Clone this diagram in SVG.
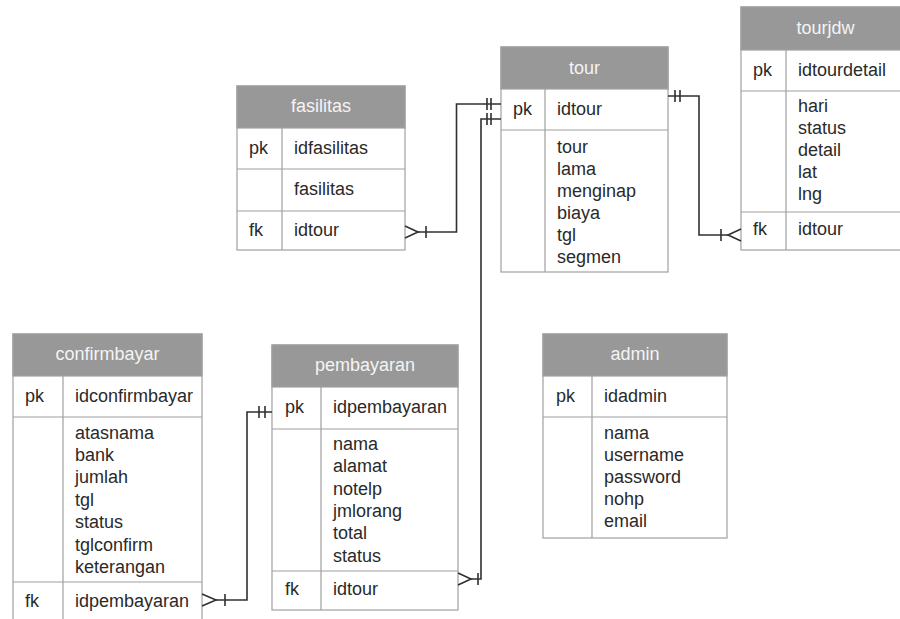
<svg xmlns="http://www.w3.org/2000/svg" width="900" height="619" viewBox="0 0 900 619">
<style>
.box{fill:#ffffff;stroke:#a0a0a0;stroke-width:1.2}
.hd{fill:#989898;stroke:#a0a0a0;stroke-width:1.2}
.ln{stroke:#a0a0a0;stroke-width:1.2;fill:none}
.ht{font-family:"Liberation Sans",Arial,sans-serif;font-size:18px;fill:#f4f4f4;text-anchor:middle}
.t{font-family:"Liberation Sans",Arial,sans-serif;font-size:18px;fill:#2a2a2a}
.c{stroke:#303030;stroke-width:1.6;fill:none}
</style>
<rect width="900" height="619" fill="#ffffff"/>

<g id="tour">
<rect class="box" x="501" y="47" width="167" height="225"/>
<rect class="hd" x="501" y="47" width="167" height="42"/>
<path class="ln" d="M501,130H668M545,89V272"/>
<text class="ht" x="584.5" y="73.5">tour</text>
<text class="t" x="513" y="115">pk</text>
<text class="t" x="557" y="115">idtour</text>
<text class="t" x="557" y="153">tour</text>
<text class="t" x="557" y="175">lama</text>
<text class="t" x="557" y="197">menginap</text>
<text class="t" x="557" y="219">biaya</text>
<text class="t" x="557" y="241">tgl</text>
<text class="t" x="557" y="263">segmen</text>
</g>

<g id="fasilitas">
<rect class="box" x="237" y="86" width="168" height="164"/>
<rect class="hd" x="237" y="86" width="168" height="42"/>
<path class="ln" d="M237,169H405M237,211H405M282,128V250"/>
<text class="ht" x="321" y="112">fasilitas</text>
<text class="t" x="249" y="154">pk</text>
<text class="t" x="294" y="154">idfasilitas</text>
<text class="t" x="294" y="195">fasilitas</text>
<text class="t" x="249" y="236">fk</text>
<text class="t" x="294" y="236">idtour</text>
</g>

<g id="tourjdw">
<rect class="box" x="741" y="7" width="169" height="243"/>
<rect class="hd" x="741" y="7" width="169" height="43"/>
<path class="ln" d="M741,91H910M741,212H910M786,50V250"/>
<text class="ht" x="825.5" y="34">tourjdw</text>
<text class="t" x="753" y="75.5">pk</text>
<text class="t" x="798" y="75.5">idtourdetail</text>
<text class="t" x="798" y="112">hari</text>
<text class="t" x="798" y="134">status</text>
<text class="t" x="798" y="156">detail</text>
<text class="t" x="798" y="178">lat</text>
<text class="t" x="798" y="200">lng</text>
<text class="t" x="753" y="235">fk</text>
<text class="t" x="798" y="235">idtour</text>
</g>

<g id="confirmbayar">
<rect class="box" x="13" y="334" width="189" height="300"/>
<rect class="hd" x="13" y="334" width="189" height="42"/>
<path class="ln" d="M13,417H202M13,582H202M63,376V634"/>
<text class="ht" x="107.5" y="360">confirmbayar</text>
<text class="t" x="25" y="402">pk</text>
<text class="t" x="75" y="402">idconfirmbayar</text>
<text class="t" x="75" y="438.5">atasnama</text>
<text class="t" x="75" y="460.9">bank</text>
<text class="t" x="75" y="483.3">jumlah</text>
<text class="t" x="75" y="505.7">tgl</text>
<text class="t" x="75" y="528.1">status</text>
<text class="t" x="75" y="550.5">tglconfirm</text>
<text class="t" x="75" y="572.9">keterangan</text>
<text class="t" x="25" y="606.5">fk</text>
<text class="t" x="75" y="606.5">idpembayaran</text>
</g>

<g id="pembayaran">
<rect class="box" x="272" y="345" width="186" height="265"/>
<rect class="hd" x="272" y="345" width="186" height="42"/>
<path class="ln" d="M272,429H458M272,571H458M321,387V610"/>
<text class="ht" x="365" y="371">pembayaran</text>
<text class="t" x="285" y="412.5">pk</text>
<text class="t" x="333" y="412.5">idpembayaran</text>
<text class="t" x="333" y="450">nama</text>
<text class="t" x="333" y="472.3">alamat</text>
<text class="t" x="333" y="494.6">notelp</text>
<text class="t" x="333" y="516.9">jmlorang</text>
<text class="t" x="333" y="539.2">total</text>
<text class="t" x="333" y="561.5">status</text>
<text class="t" x="285" y="595">fk</text>
<text class="t" x="333" y="595">idtour</text>
</g>

<g id="admin">
<rect class="box" x="543" y="334" width="184" height="204"/>
<rect class="hd" x="543" y="334" width="184" height="42"/>
<path class="ln" d="M543,417H727M592,376V538"/>
<text class="ht" x="635" y="360">admin</text>
<text class="t" x="556" y="402">pk</text>
<text class="t" x="604" y="402">idadmin</text>
<text class="t" x="604" y="439">nama</text>
<text class="t" x="604" y="461">username</text>
<text class="t" x="604" y="483">password</text>
<text class="t" x="604" y="505">nohp</text>
<text class="t" x="604" y="527">email</text>
</g>

<g id="connectors">
<path class="c" d="M418,232H456.5V104H501"/>
<path class="c" d="M405,226L418,232L405,238M426,226V238M487,98V110M491,98V110"/>
<path class="c" d="M501,119H481V579H471"/>
<path class="c" d="M458,573L471,579L458,585M478,573V585M487,113V125M491,113V125"/>
<path class="c" d="M668,96H699V235H728"/>
<path class="c" d="M741,229L728,235L741,241M721,229V241M675,90V102M680,90V102"/>
<path class="c" d="M216,600H247V412H272"/>
<path class="c" d="M202,594L216,600L202,606M225,594V606M259,406V418M265,406V418"/>
</g>
</svg>
